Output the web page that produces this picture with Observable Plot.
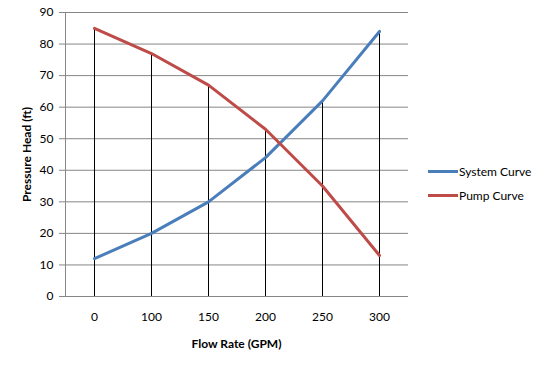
<!DOCTYPE html>
<html>
<head>
<meta charset="utf-8">
<script src="https://cdn.jsdelivr.net/npm/d3@7"></script>
<script src="https://cdn.jsdelivr.net/npm/@observablehq/plot@0.6"></script>
<style>
  html, body { margin: 0; padding: 0; background: #fff; }
  #wrap { position: relative; width: 542px; height: 366px; font-family: Lato, "Open Sans", sans-serif; }
  #legend { position: absolute; left: 428px; top: 159px; font-size: 12px; color: #000; }
  .item { display: flex; align-items: center; height: 24px; }
  .sw { width: 30px; height: 3px; margin-right: 1px; }
</style>
</head>
<body>
<div id="wrap"></div>
<script>
const flowRates = ["0", "100", "150", "200", "250", "300"];
const systemCurve = [12, 20, 30, 44, 62, 84];
const pumpCurve = [85, 77, 67, 53, 35, 13];
const seriesNames = ["System Curve", "Pump Curve"];
const seriesColors = ["#4A7EBB", "#BE4B48"];
const yTicks = [0, 10, 20, 30, 40, 50, 60, 70, 80, 90];

const rows = [];
flowRates.forEach((f, i) => {
  rows.push({flow: f, value: systemCurve[i], series: seriesNames[0]});
  rows.push({flow: f, value: pumpCurve[i], series: seriesNames[1]});
});
const drops = flowRates.map((f, i) => ({flow: f, top: Math.max(systemCurve[i], pumpCurve[i])}));

const chart = Plot.plot({
  width: 542,
  height: 366,
  marginLeft: 64,
  marginRight: 134,
  marginTop: 12,
  marginBottom: 70,
  style: {fontFamily: "Lato, 'Open Sans', sans-serif", fontSize: "12px", color: "#000", background: "#fff"},
  x: {type: "point", domain: flowRates, padding: 0.5, label: null},
  y: {domain: [0, 90], label: null},
  color: {domain: seriesNames, range: seriesColors},
  marks: [
    Plot.ruleY(yTicks, {stroke: "#868686", strokeWidth: 1}),
    Plot.ruleX(drops, {x: "flow", y1: 0, y2: "top", stroke: "#000", strokeWidth: 1}),
    Plot.line(rows, {x: "flow", y: "value", stroke: "series", z: "series", strokeWidth: 3}),
    Plot.axisX({tickSize: 0, tickPadding: 16, fontSize: 12}),
    Plot.axisY({ticks: yTicks, tickSize: 5, tickPadding: 6, stroke: "#868686", fontSize: 12}),
    Plot.ruleX([flowRates[0]], {stroke: "#868686", dx: -29, y1: 0, y2: 90}),
    Plot.text(["Flow Rate (GPM)"], {frameAnchor: "bottom", dy: 51, fontWeight: "bold", fontSize: 12}),
    Plot.text(["Pressure Head (ft)"], {frameAnchor: "left", textAnchor: "middle", dx: -37, rotate: -90, fontWeight: "bold", fontSize: 12})
  ]
});
document.getElementById("wrap").appendChild(chart);

const legend = document.createElement("div");
legend.id = "legend";
seriesNames.forEach((n, i) => {
  const it = document.createElement("div");
  it.className = "item";
  const sw = document.createElement("div");
  sw.className = "sw";
  sw.style.background = seriesColors[i];
  const t = document.createElement("span");
  t.textContent = n;
  it.appendChild(sw); it.appendChild(t);
  legend.appendChild(it);
});
document.getElementById("wrap").appendChild(legend);
</script>
</body>
</html>
